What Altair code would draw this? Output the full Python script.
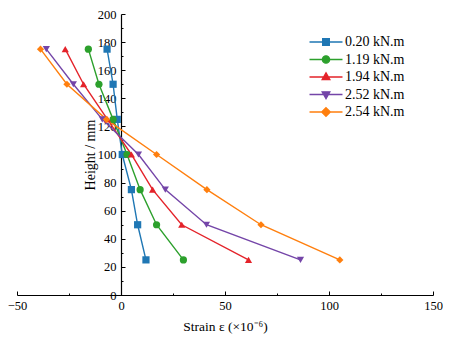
import altair as alt
import pandas as pd

heights = [175, 150, 125, 100, 75, 50, 25]
series_names = ["0.20 kN.m", "1.19 kN.m", "1.94 kN.m", "2.52 kN.m", "2.54 kN.m"]
strain_020 = [-6.7, -3.8, -1.8, 0.6, 5.0, 8.0, 12.0]
strain_119 = [-15.7, -10.6, -3.8, 2.9, 9.2, 17.1, 30.0]
strain_194 = [-26.8, -18.0, -6.5, 5.0, 15.2, 29.2, 61.3]
strain_252 = [-35.9, -22.9, -9.0, 8.4, 21.3, 41.1, 86.3]
strain_254 = [-38.7, -26.0, -7.0, 17.1, 41.3, 67.3, 105.2]
all_strains = [strain_020, strain_119, strain_194, strain_252, strain_254]

colors = ["#1f77b4", "#2ca02c", "#e4232a", "#7445a8", "#ff7f0e"]
shapes = ["square", "circle", "triangle-up", "triangle-down", "diamond"]
legend_paths = [
    "M-2,0H2M-0.4,-0.4H0.4V0.4H-0.4Z",
    "M-2,0H2M0.44,0A0.44,0.44 0 1,1 -0.44,0A0.44,0.44 0 1,1 0.44,0Z",
    "M-2,0H2M0,-0.5L0.46,0.32L-0.46,0.32Z",
    "M-2,0H2M0,0.5L0.46,-0.32L-0.46,-0.32Z",
    "M-2,0H2M0,-0.52L0.52,0L0,0.52L-0.52,0Z",
]

x_major = [-50, 0, 50, 100, 150]
x_minor = [-25, 25, 75, 125]
y_major = list(range(0, 201, 20))
y_minor = list(range(10, 200, 20))

rows = []
for name, vals in zip(series_names, all_strains):
    for i, (h, s) in enumerate(zip(heights, vals)):
        rows.append({"series": name, "height": h, "strain": s, "idx": i})
df = pd.DataFrame(rows)

W, H = 416, 281
x0_px = W * 50 / 200.0
FONT = "Liberation Serif"

xscale = alt.Scale(domain=[-50, 150], nice=False, zero=False)
yscale = alt.Scale(domain=[0, 200], nice=False)

x_major_axis = alt.Axis(orient="top", offset=-H, values=x_major, tickSize=4,
                        labelBaseline="top", labelPadding=-8, labelFlush=False,
                        labelOverlap=False, grid=False, labelFont=FONT, labelFontSize=12.5,
                        title="Strain ε (×10⁻⁶)", titleY=24, titleBaseline="top",
                        titleFont=FONT, titleFontSize=13.5)
x_minor_axis = alt.Axis(orient="top", offset=-H, values=x_minor, tickSize=2,
                        labels=False, domain=False, grid=False, title=None)
y_major_axis = alt.Axis(orient="right", offset=-(W - x0_px), values=y_major, tickSize=4,
                        labelAlign="right", labelPadding=-9, labelBaseline="middle",
                        labelFlush=False, labelOverlap=False, grid=False,
                        labelFont=FONT, labelFontSize=12.5,
                        title="Height / mm", titleAngle=270, titleX=-31, titleY=H / 2,
                        titleAlign="center", titleBaseline="middle", titleFont=FONT,
                        titleFontSize=14)
y_minor_axis = alt.Axis(orient="right", offset=-(W - x0_px), values=y_minor, tickSize=2,
                        labels=False, domain=False, grid=False, title=None)

base = alt.Chart(df)

lines = base.mark_line(strokeWidth=1.4).encode(
    x=alt.X("strain:Q", scale=xscale, axis=x_major_axis),
    y=alt.Y("height:Q", scale=yscale, axis=y_major_axis),
    color=alt.Color("series:N", scale=alt.Scale(domain=series_names, range=colors), legend=None),
    order=alt.Order("idx:Q"),
)

points = base.mark_point(filled=True, size=52, opacity=1).encode(
    x=alt.X("strain:Q", scale=xscale, axis=x_minor_axis),
    y=alt.Y("height:Q", scale=yscale, axis=y_minor_axis),
    color=alt.Color("series:N", scale=alt.Scale(domain=series_names, range=colors), legend=None),
    shape=alt.Shape("series:N", scale=alt.Scale(domain=series_names, range=shapes), legend=None),
)

leg = alt.Legend(title=None, orient="none", legendX=300, legendY=19, symbolSize=272,
                 symbolStrokeWidth=1.4, symbolOpacity=1, labelFont=FONT, labelFontSize=14,
                 labelColor="black", labelOffset=10, rowPadding=1.5, padding=0)

legend_layer = base.mark_point(filled=True, opacity=0).encode(
    x=alt.X("strain:Q", scale=xscale, axis=None),
    y=alt.Y("height:Q", scale=yscale, axis=None),
    fill=alt.Fill("series:N", scale=alt.Scale(domain=series_names, range=colors), legend=leg),
    stroke=alt.Stroke("series:N", scale=alt.Scale(domain=series_names, range=colors), legend=leg),
    shape=alt.Shape("series:N", scale=alt.Scale(domain=series_names, range=legend_paths), legend=leg),
)

chart = alt.layer(lines, points, legend_layer).resolve_scale(
    color="independent", shape="independent", fill="independent", stroke="independent"
).resolve_axis(x="independent", y="independent").properties(
    width=W, height=H,
    autosize=alt.AutoSizeParams(type="none"),
    padding={"left": 9, "top": 6, "right": 10, "bottom": 40},
).configure_view(stroke=None).configure_axis(
    domainColor="black", tickColor="black", labelColor="black", titleColor="black",
    labelFont=FONT, titleFont=FONT, labelFontSize=12.5, titleFontWeight="normal",
    domainWidth=1.2, tickWidth=1,
)

chart.save("out.html", embed_options={"renderer": "svg", "actions": False})
